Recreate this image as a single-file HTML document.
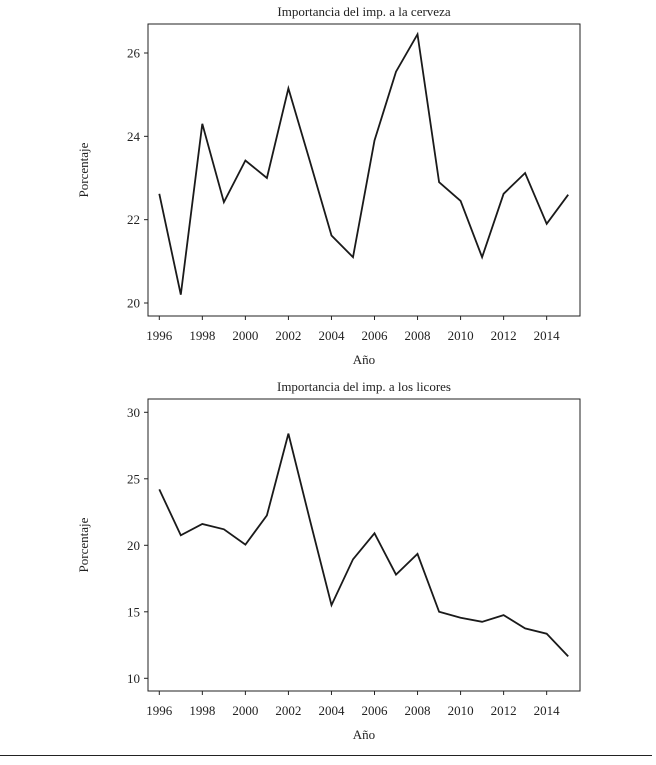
<!DOCTYPE html>
<html><head><meta charset="utf-8"><style>
body{margin:0;background:#fff}
svg text{font-family:"Liberation Serif",serif;fill:#222}
</style></head><body>
<svg id="s" width="656" height="760">
<line x1="0" y1="755.5" x2="652" y2="755.5" stroke="#222" stroke-width="1"/>
</svg>
<script>
const years=[1996,1997,1998,1999,2000,2001,2002,2003,2004,2005,2006,2007,2008,2009,2010,2011,2012,2013,2014,2015];
const cerveza=[22.62,20.2,24.3,22.42,23.42,23.0,25.15,23.4,21.62,21.1,23.9,25.55,26.45,22.9,22.45,21.1,22.62,23.12,21.9,22.6];
const licores=[24.2,20.75,21.6,21.2,20.05,22.25,28.4,21.9,15.5,18.95,20.9,17.8,19.35,15.0,14.55,14.25,14.75,13.75,13.35,11.65];
const xTicks=[1996,1998,2000,2002,2004,2006,2008,2010,2012,2014];
const yTicksTop=[20,22,24,26];
const yTicksBot=[10,15,20,25,30];
const NS="http://www.w3.org/2000/svg";
const svg=document.getElementById('s');
function mk(t,a,p){const e=document.createElementNS(NS,t);for(const k in a)e.setAttribute(k,a[k]);(p||svg).appendChild(e);return e;}
const xs=y=>159.3+(y-1996)*21.52;
function chart(name,title,top,bot,yv0,yp0,yv1,yp1,yticks,data){
  const g=mk('g',{});
  
  
  const ys=v=>yp0+(v-yv0)*(yp1-yp0)/(yv1-yv0);
  const t=mk('text',{x:364,y:top-8,'text-anchor':'middle','font-size':'13'},g);t.textContent=title;
  
  
  const r=mk('rect',{x:148,y:top,width:432,height:bot-top,fill:'none',stroke:'#222','stroke-width':1},g);
  
  
  for(const v of yticks){const y=ys(v);
    mk('line',{x1:144,x2:148,y1:y,y2:y,stroke:'#222'},g);
    const l=mk('text',{x:140,y:y+4.5,'text-anchor':'end','font-size':'13'},g);l.textContent=v;
    
    }
  for(const v of xTicks){const x=xs(v);
    mk('line',{x1:x,x2:x,y1:bot,y2:bot+4,stroke:'#222'},g);
    const l=mk('text',{x:x,y:bot+24,'text-anchor':'middle','font-size':'13'},g);l.textContent=v;
    
    }
  const xl=mk('text',{x:364,y:bot+48,'text-anchor':'middle','font-size':'13'},g);xl.textContent='Año';
  
  
  const cy=(top+bot)/2;
  const yl=mk('text',{x:88,y:cy,'text-anchor':'middle','font-size':'13',transform:`rotate(-90 88 ${cy})`},g);yl.textContent='Porcentaje';
  
  
  const pts=data.map((v,i)=>xs(years[i]).toFixed(1)+','+ys(v).toFixed(1)).join(' ');
  const pl=mk('polyline',{points:pts,fill:'none',stroke:'#1a1a1a','stroke-width':1.8,'stroke-linejoin':'miter'},g);
  
  
}
chart('chart-cerveza','Importancia del imp. a la cerveza',24,316,26,53,20,303,yTicksTop,cerveza);
chart('chart-licores','Importancia del imp. a los licores',399,691,30,412.3,10,678.3,yTicksBot,licores);
</script>
</body></html>
